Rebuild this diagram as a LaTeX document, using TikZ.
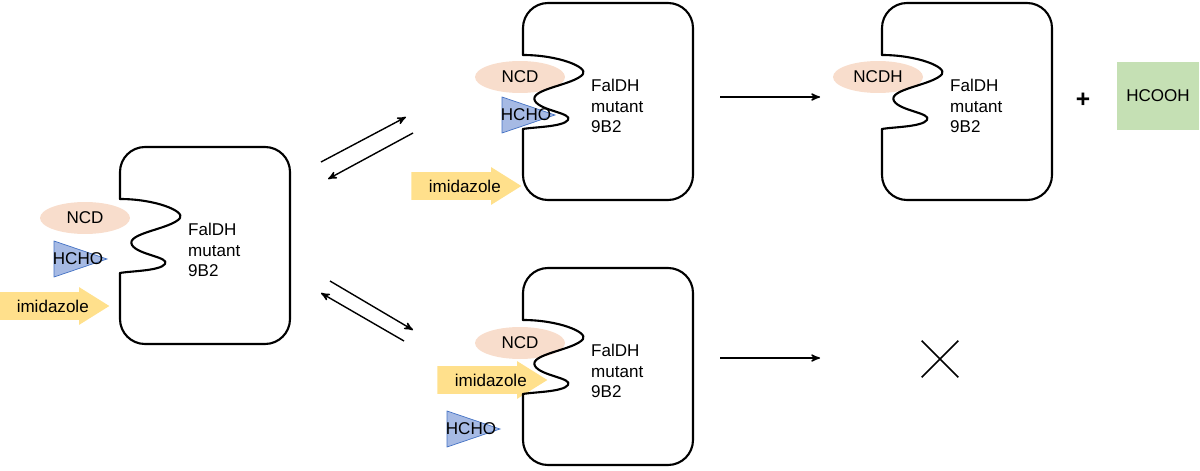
\documentclass[tikz,border=0pt]{standalone}
\usepackage{fontspec}
\setmainfont{Liberation Sans}
\usetikzlibrary{arrows, positioning, shapes.geometric, shapes.arrows, shapes.misc}

\definecolor{ncdpeach}{RGB}{248,221,204}
\definecolor{hchoblue}{RGB}{166,186,228}
\definecolor{hchoedge}{RGB}{68,114,196}
\definecolor{imidyellow}{RGB}{255,224,140}
\definecolor{acidgreen}{RGB}{197,224,180}

\begin{document}
\begin{tikzpicture}[x=0.02cm, y=-0.02cm,
        every node/.style={font=\fontsize{9.7}{11.8}\selectfont},
        enz/.style={line width=1.2pt, line cap=round, line join=round},
        rxn/.style={->, >=stealth', line width=0.8pt},
        ncd/.style={ellipse, fill=ncdpeach, minimum width=1.8cm, minimum height=0.64cm, inner sep=0pt},
        imid/.style={single arrow, fill=imidyellow, minimum height=2.2cm, inner xsep=1pt, inner ysep=0.27cm,
            single arrow head extend=0.1cm, single arrow tip angle=64, anchor=tip,
            label={[xshift=0.19cm]center:imidazole}},
        acid/.style={rectangle, fill=acidgreen, minimum width=1.64cm, minimum height=1.36cm},
        hcho/.pic={
            \draw[hchoedge, fill=hchoblue, line width=0.4pt] (-26,-18) -- (27,0) -- (-26,18) -- cycle;
            \node (-lbl) at (-2,0) {HCHO};
        },
        enzyme/.pic={
            \draw[enz, rounded corners=0.5cm] (0,52) -- (0,0) -- (170,0) -- (170,197) -- (0,197) -- (0,126);
            \draw[enz] (0,52) .. controls (35,52) and (65,64) .. (60,71)
                .. controls (52,82) and (5,86) .. (12,98)
                .. controls (18,108) and (50,110) .. (45,117)
                .. controls (40,124) and (10,124) .. (0,126);
            \node[anchor=west, align=left] (-txt) at (62,103) {FalDH\\mutant\\9B2};
        }
    ]
    \useasboundingbox (0,0) rectangle (1200,470);

    % substrates in front of the enzymes
    \node[ncd] (ncdA) at (85,218) {NCD};
    \pic (hchoA) at (80,259) {hcho};
    \node[imid] (imidA) at (110,306) {};

    \node[ncd] (ncdB) at (520,77) {NCD};
    \pic (hchoB) at (528,115) {hcho};
    \node[imid] (imidB) at (522,186) {};

    \node[ncd] (ncdC) at (520,343) {NCD};
    \node[imid] (imidC) at (548,380) {};
    \pic (hchoC) at (473,429) {hcho};

    \node[ncd] (ncdD) at (878,77) {NCDH};

    % enzymes
    \pic (enzA) at (120,147) {enzyme};
    \pic (enzB) at (523,3) {enzyme};
    \pic (enzC) at (523,268) {enzyme};
    \pic (enzD) at (882,3) {enzyme};

    % products
    \node[font=\fontsize{14}{16}\selectfont\bfseries] (plus) at (1083,100) {+};
    \node[acid] (hcooh) at (1158,96) {HCOOH};
    \node[cross out, draw, line width=0.9pt, minimum size=0.7cm] (noreact) at (940,359) {};

    % reaction arrows
    \coordinate (eqA1) at (321,162);
    \coordinate (eqA2) at (406,117);
    \coordinate (eqA3) at (413,133);
    \coordinate (eqA4) at (328,179);
    \coordinate (eqB1) at (330,281);
    \coordinate (eqB2) at (413,330);
    \coordinate (eqB3) at (404,341);
    \coordinate (eqB4) at (321,293);
    \coordinate (goB1) at (720,97);
    \coordinate (goB2) at (820,97);
    \coordinate (goC1) at (720,358);
    \coordinate (goC2) at (820,358);

    \draw[rxn] (eqA1) -- (eqA2);
    \draw[rxn] (eqA3) -- (eqA4);
    \draw[rxn] (eqB1) -- (eqB2);
    \draw[rxn] (eqB3) -- (eqB4);
    \draw[rxn] (goB1) -- (goB2);
    \draw[rxn] (goC1) -- (goC2);
\end{tikzpicture}
\end{document}
